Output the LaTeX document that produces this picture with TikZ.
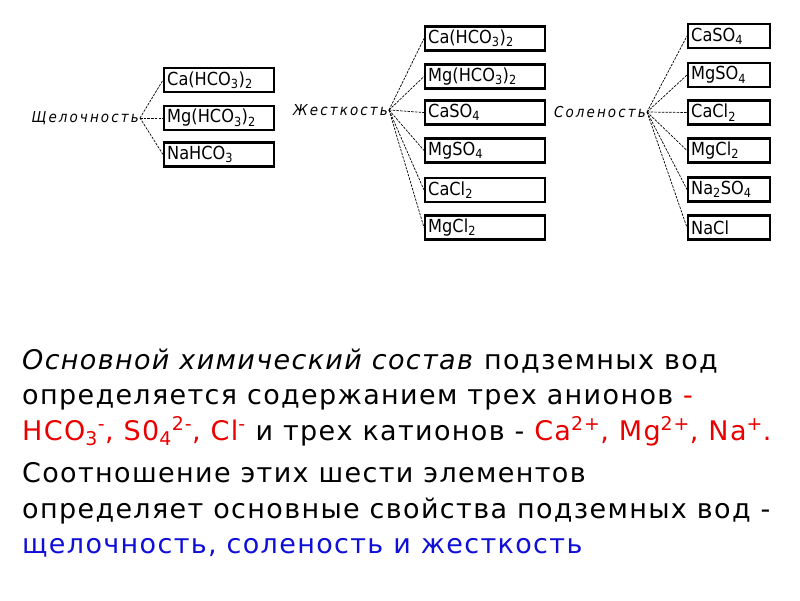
\documentclass[tikz,border=0pt]{standalone}
\usepackage{fontspec}
\setmainfont{DejaVu Sans}
\newfontfamily\boxfont{DejaVu Sans Condensed}
\newfontfamily\bodyfont[LetterSpace=5]{DejaVu Sans}
\newfontfamily\labfont[LetterSpace=14]{DejaVu Sans Condensed}
\definecolor{txtred}{RGB}{235,0,0}
\definecolor{txtblue}{RGB}{15,15,215}
\begin{document}
\begin{tikzpicture}[x=1pt,y=-1pt,
  chembox/.style={draw, line width=2.4pt, inner xsep=3pt, inner ysep=0pt, minimum height=24pt, anchor=west, font=\boxfont\fontsize{18}{18}\selectfont, align=left},
  grp/.style={font=\labfont\itshape\fontsize{15}{15}\selectfont, inner sep=1pt, anchor=east},
  link/.style={line width=0.7pt, dash pattern=on 2.5pt off 1.2pt},
  body/.style={anchor=base west, inner sep=0pt, font=\bodyfont\fontsize{27}{30}\selectfont}]
\useasboundingbox (0,0) rectangle (800,600);
% left group
\node[grp] (alk) at (140,118) {Щелочность};
\node[chembox, text width=104pt] (a1) at (163,80) {Ca(HCO\textsubscript{3})\textsubscript{2}};
\node[chembox, text width=104pt] (a2) at (163,118) {Mg(HCO\textsubscript{3})\textsubscript{2}};
\node[chembox, text width=104pt] (a3) at (163,154.5) {NaHCO\textsubscript{3}};
\foreach \b in {a1,a2,a3} \draw[link] (alk.east) -- (\b.west);
% middle group
\node[grp] (hard) at (389,110) {Жесткость};
\node[chembox, text width=114pt] (h1) at (424,38.5) {Ca(HCO\textsubscript{3})\textsubscript{2}};
\node[chembox, text width=114pt] (h2) at (424,76.5) {Mg(HCO\textsubscript{3})\textsubscript{2}};
\node[chembox, text width=114pt] (h3) at (424,112.5) {CaSO\textsubscript{4}};
\node[chembox, text width=114pt] (h4) at (424,150.5) {MgSO\textsubscript{4}};
\node[chembox, text width=114pt] (h5) at (424,190) {CaCl\textsubscript{2}};
\node[chembox, text width=114pt] (h6) at (424,227.5) {MgCl\textsubscript{2}};
\foreach \b in {h1,h2,h3,h4,h5,h6} \draw[link] (hard.east) -- (\b.west);
% right group
\node[grp] (salt) at (647,112) {Соленость};
\node[chembox, text width=76pt] (s1) at (687,36) {CaSO\textsubscript{4}};
\node[chembox, text width=76pt] (s2) at (687,75) {MgSO\textsubscript{4}};
\node[chembox, text width=76pt] (s3) at (687,112.5) {CaCl\textsubscript{2}};
\node[chembox, text width=76pt] (s4) at (687,150.5) {MgCl\textsubscript{2}};
\node[chembox, text width=76pt] (s5) at (687,189.5) {Na\textsubscript{2}SO\textsubscript{4}};
\node[chembox, text width=76pt] (s6) at (687,227.5) {NaCl};
\foreach \b in {s1,s2,s3,s4,s5,s6} \draw[link] (salt.east) -- (\b.west);
% text
\node[body] (t1) at (22,369) {\textit{Основной химический состав} подземных вод};
\node[body] (t2) at (22,404) {определяется содержанием трех анионов {\color{txtred}-}};
\node[body] (t3) at (22,440) {{\color{txtred}HCO\textsubscript{3}\textsuperscript{-}, S0\textsubscript{4}\textsuperscript{2-}, Cl\textsuperscript{-}} и трех катионов - {\color{txtred}Ca\textsuperscript{2+}, Mg\textsuperscript{2+}, Na\textsuperscript{+}.}};
\node[body] (t4) at (22,482) {Соотношение этих шести элементов};
\node[body] (t5) at (22,518) {определяет основные свойства подземных вод -};
\node[body, text=txtblue] (t6) at (22,553) {щелочность, соленость и жесткость};
\end{tikzpicture}
\end{document}
